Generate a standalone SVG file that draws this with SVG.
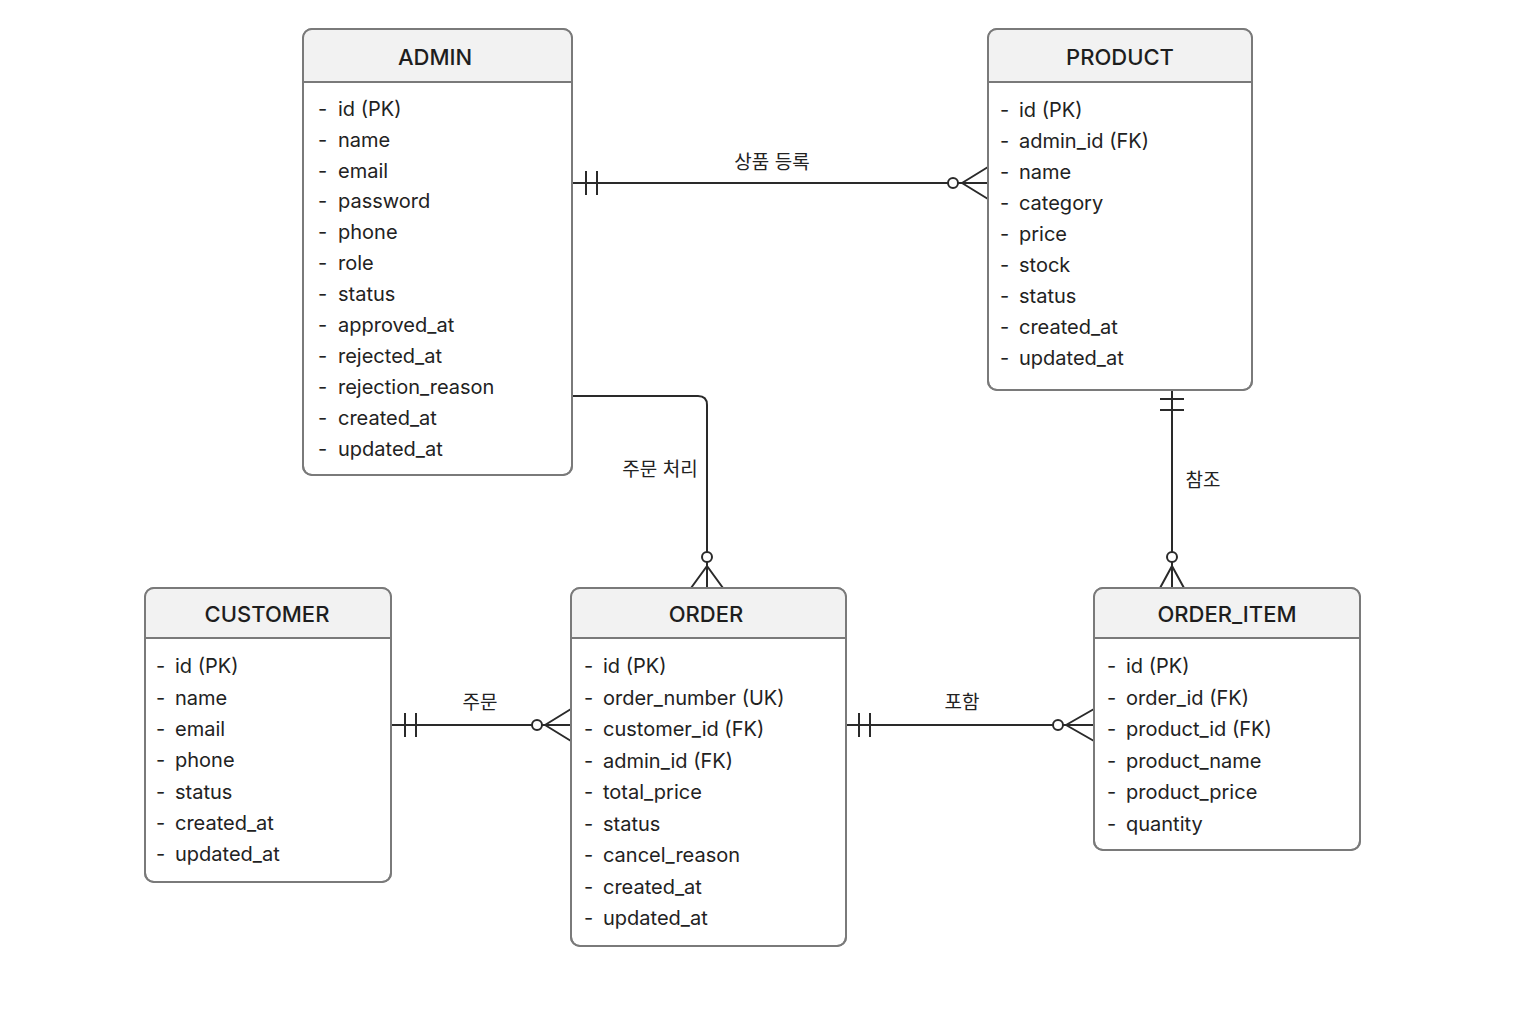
<svg xmlns="http://www.w3.org/2000/svg" width="1536" height="1024" viewBox="0 0 1536 1024">
<style>
.box{fill:#fff;stroke:#7a7a7a;stroke-width:2}
.hdr{fill:#f2f2f2}
.sep{stroke:#7a7a7a;stroke-width:2}
.title{font-family:Inter,"Noto Sans CJK KR",sans-serif;font-size:22px;font-weight:500;fill:#1e1e1e;text-anchor:middle}
.f{font-family:Inter,"Noto Sans CJK KR",sans-serif;font-size:20px;fill:#222}
.ln{fill:none;stroke:#2a2a2a;stroke-width:2}
.lbl{font-family:Inter,"Noto Sans CJK KR",sans-serif;font-size:19px;fill:#222;text-anchor:middle}
.c{fill:#fff;stroke:#2a2a2a;stroke-width:2}
</style>
<rect width="1536" height="1024" fill="#fff"/>

<g id="connectors">
  <!-- ADMIN - PRODUCT -->
  <path class="ln" d="M572 183H988"/>
  <path class="ln" d="M586 171V195M597 171V195"/>
  <path class="ln" d="M962 183L988 167M962 183L988 199"/>
  <circle class="c" cx="953" cy="183" r="5"/>
  <text class="lbl" x="772" y="169">상품 등록</text>

  <!-- ADMIN - ORDER -->
  <path class="ln" d="M572 396H698Q707 396 707 405V588"/>
  <path class="ln" d="M707 566L691 588M707 566L723 588"/>
  <circle class="c" cx="707" cy="557" r="5"/>
  <text class="lbl" x="660" y="476">주문 처리</text>

  <!-- PRODUCT - ORDER_ITEM -->
  <path class="ln" d="M1172 390V588"/>
  <path class="ln" d="M1160 399H1184M1160 410H1184"/>
  <path class="ln" d="M1172 566L1160 588M1172 566L1184 588"/>
  <circle class="c" cx="1172" cy="557" r="5"/>
  <text class="lbl" x="1203" y="487">참조</text>

  <!-- CUSTOMER - ORDER -->
  <path class="ln" d="M391 725H571"/>
  <path class="ln" d="M405 713V737M416 713V737"/>
  <path class="ln" d="M545 725L571 709M545 725L571 741"/>
  <circle class="c" cx="537" cy="725" r="5"/>
  <text class="lbl" x="480" y="709">주문</text>

  <!-- ORDER - ORDER_ITEM -->
  <path class="ln" d="M846 725H1094"/>
  <path class="ln" d="M859 713V737M870 713V737"/>
  <path class="ln" d="M1066 725L1094 709M1066 725L1094 741"/>
  <circle class="c" cx="1058" cy="725" r="5"/>
  <text class="lbl" x="962" y="709">포함</text>
</g>

<g id="admin">
  <rect class="box" x="303" y="29" width="269" height="446" rx="9"/>
  <path class="hdr" d="M312 30H563Q571 30 571 38V82H304V38Q304 30 312 30Z"/>
  <line class="sep" x1="303" y1="82" x2="572" y2="82"/>
  <rect x="303" y="29" width="269" height="446" rx="9" fill="none" stroke="#7a7a7a" stroke-width="2"/>
  <text class="title" x="435" y="65">ADMIN</text>
  <g class="f">
    <text x="318" y="116">-</text><text x="338" y="116">id (PK)</text>
    <text x="318" y="147">-</text><text x="338" y="147">name</text>
    <text x="318" y="178">-</text><text x="338" y="178">email</text>
    <text x="318" y="208">-</text><text x="338" y="208">password</text>
    <text x="318" y="239">-</text><text x="338" y="239">phone</text>
    <text x="318" y="270">-</text><text x="338" y="270">role</text>
    <text x="318" y="301">-</text><text x="338" y="301">status</text>
    <text x="318" y="332">-</text><text x="338" y="332">approved_at</text>
    <text x="318" y="363">-</text><text x="338" y="363">rejected_at</text>
    <text x="318" y="394">-</text><text x="338" y="394">rejection_reason</text>
    <text x="318" y="425">-</text><text x="338" y="425">created_at</text>
    <text x="318" y="456">-</text><text x="338" y="456">updated_at</text>
  </g>
</g>

<g id="product">
  <rect class="box" x="988" y="29" width="264" height="361" rx="9"/>
  <path class="hdr" d="M997 30H1243Q1251 30 1251 38V82H989V38Q989 30 997 30Z"/>
  <line class="sep" x1="988" y1="82" x2="1252" y2="82"/>
  <rect x="988" y="29" width="264" height="361" rx="9" fill="none" stroke="#7a7a7a" stroke-width="2"/>
  <text class="title" x="1120" y="65">PRODUCT</text>
  <g class="f">
    <text x="1000" y="117">-</text><text x="1019" y="117">id (PK)</text>
    <text x="1000" y="148">-</text><text x="1019" y="148">admin_id (FK)</text>
    <text x="1000" y="179">-</text><text x="1019" y="179">name</text>
    <text x="1000" y="210">-</text><text x="1019" y="210">category</text>
    <text x="1000" y="241">-</text><text x="1019" y="241">price</text>
    <text x="1000" y="272">-</text><text x="1019" y="272">stock</text>
    <text x="1000" y="303">-</text><text x="1019" y="303">status</text>
    <text x="1000" y="334">-</text><text x="1019" y="334">created_at</text>
    <text x="1000" y="365">-</text><text x="1019" y="365">updated_at</text>
  </g>
</g>

<g id="customer">
  <rect class="box" x="145" y="588" width="246" height="294" rx="9"/>
  <path class="hdr" d="M154 589H382Q390 589 390 597V638H146V597Q146 589 154 589Z"/>
  <line class="sep" x1="145" y1="638" x2="391" y2="638"/>
  <rect x="145" y="588" width="246" height="294" rx="9" fill="none" stroke="#7a7a7a" stroke-width="2"/>
  <text class="title" x="267" y="622">CUSTOMER</text>
  <g class="f">
    <text x="156" y="673">-</text><text x="175" y="673">id (PK)</text>
    <text x="156" y="705">-</text><text x="175" y="705">name</text>
    <text x="156" y="736">-</text><text x="175" y="736">email</text>
    <text x="156" y="767">-</text><text x="175" y="767">phone</text>
    <text x="156" y="799">-</text><text x="175" y="799">status</text>
    <text x="156" y="830">-</text><text x="175" y="830">created_at</text>
    <text x="156" y="861">-</text><text x="175" y="861">updated_at</text>
  </g>
</g>

<g id="order">
  <rect class="box" x="571" y="588" width="275" height="358" rx="9"/>
  <path class="hdr" d="M580 589H837Q845 589 845 597V638H572V597Q572 589 580 589Z"/>
  <line class="sep" x1="571" y1="638" x2="846" y2="638"/>
  <rect x="571" y="588" width="275" height="358" rx="9" fill="none" stroke="#7a7a7a" stroke-width="2"/>
  <text class="title" x="706" y="622">ORDER</text>
  <g class="f">
    <text x="584" y="673">-</text><text x="603" y="673">id (PK)</text>
    <text x="584" y="705">-</text><text x="603" y="705">order_number (UK)</text>
    <text x="584" y="736">-</text><text x="603" y="736">customer_id (FK)</text>
    <text x="584" y="768">-</text><text x="603" y="768">admin_id (FK)</text>
    <text x="584" y="799">-</text><text x="603" y="799">total_price</text>
    <text x="584" y="831">-</text><text x="603" y="831">status</text>
    <text x="584" y="862">-</text><text x="603" y="862">cancel_reason</text>
    <text x="584" y="894">-</text><text x="603" y="894">created_at</text>
    <text x="584" y="925">-</text><text x="603" y="925">updated_at</text>
  </g>
</g>

<g id="order_item">
  <rect class="box" x="1094" y="588" width="266" height="262" rx="9"/>
  <path class="hdr" d="M1103 589H1351Q1359 589 1359 597V638H1095V597Q1095 589 1103 589Z"/>
  <line class="sep" x1="1094" y1="638" x2="1360" y2="638"/>
  <rect x="1094" y="588" width="266" height="262" rx="9" fill="none" stroke="#7a7a7a" stroke-width="2"/>
  <text class="title" x="1227" y="622">ORDER_ITEM</text>
  <g class="f">
    <text x="1107" y="673">-</text><text x="1126" y="673">id (PK)</text>
    <text x="1107" y="705">-</text><text x="1126" y="705">order_id (FK)</text>
    <text x="1107" y="736">-</text><text x="1126" y="736">product_id (FK)</text>
    <text x="1107" y="768">-</text><text x="1126" y="768">product_name</text>
    <text x="1107" y="799">-</text><text x="1126" y="799">product_price</text>
    <text x="1107" y="831">-</text><text x="1126" y="831">quantity</text>
  </g>
</g>
</svg>
